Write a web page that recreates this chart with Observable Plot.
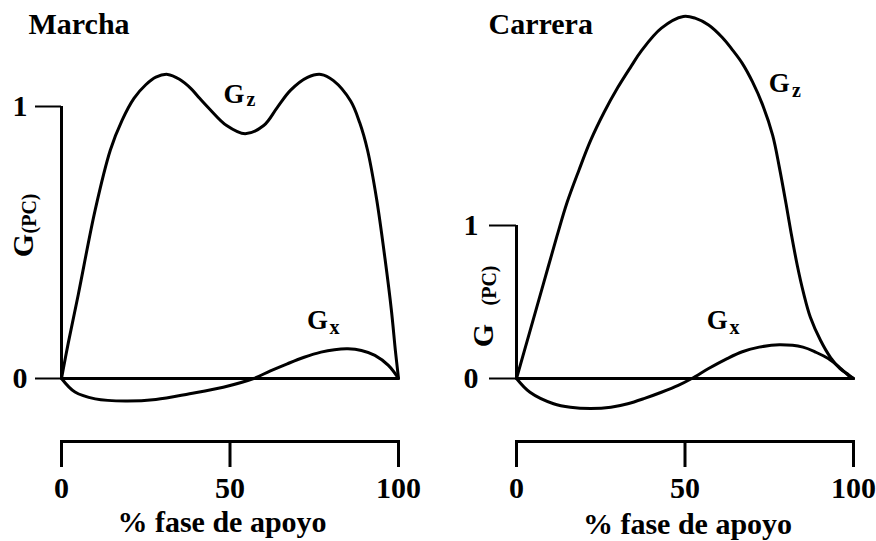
<!DOCTYPE html>
<html><head><meta charset="utf-8">
<script src="https://cdn.jsdelivr.net/npm/d3@7"></script>
<script src="https://cdn.jsdelivr.net/npm/@observablehq/plot@0.6"></script>
<style>
body{margin:0;background:#fff;}
#chart{position:relative;width:876px;height:541px;overflow:hidden;background:#fff;}
#chart svg{position:absolute;top:0;}
</style></head><body><div id="chart"></div>
<script>
// ---- data ----
const xTicks = [0, 50, 100];
const yTicks = [0, 1];
const panelTitles = ["Marcha", "Carrera"];
const xLabel = "% fase de apoyo";
const yLabelMain = "G";
const yLabelSub = "(PC)";

// Marcha (walking)
const marchaGzX = [0, 2, 5, 10, 14.5, 18, 21.5, 25, 28, 31.5, 35, 38.5, 41, 44, 49, 54.5, 60, 64, 68, 73, 77, 80.7, 85.8, 88.5, 90.8, 93.5, 96, 97.9, 99.1, 100];
const marchaGzV = [0, 0.13, 0.31, 0.62, 0.84, 0.95, 1.03, 1.08, 1.108, 1.118, 1.10, 1.065, 1.03, 0.99, 0.93, 0.90, 0.93, 0.996, 1.06, 1.107, 1.118, 1.095, 1.02, 0.94, 0.84, 0.66, 0.44, 0.25, 0.10, 0];
const marchaGxX = [0, 4, 10, 19, 28, 38, 48, 57, 62, 67, 72, 77, 81, 85, 89, 93, 97, 100];
const marchaGxV = [0, -0.05, -0.075, -0.083, -0.077, -0.056, -0.032, 0, 0.028, 0.054, 0.078, 0.097, 0.106, 0.109, 0.103, 0.085, 0.048, 0];

// Carrera (running)
const carreraGzX = [0, 4, 8, 12, 15, 18.5, 22, 26, 30, 34, 37, 43, 49.5, 53, 57, 61, 64, 67, 70, 73, 76, 78, 80, 81.5, 83.4, 85.2, 87.2, 90.2, 93.2, 96, 98.5, 100];
const carreraGzV = [0, 0.31, 0.62, 0.93, 1.15, 1.36, 1.556, 1.74, 1.9, 2.04, 2.14, 2.29, 2.366, 2.355, 2.31, 2.23, 2.15, 2.06, 1.94, 1.79, 1.59, 1.38, 1.14, 0.95, 0.73, 0.556, 0.40, 0.25, 0.137, 0.065, 0.025, 0];
const carreraGxX = [0, 4, 11, 16, 22, 28, 33, 38, 43, 48, 52, 57, 62.5, 67, 72, 78, 85, 89, 92.5, 96, 98.5, 100];
const carreraGxV = [0, -0.09, -0.165, -0.188, -0.196, -0.188, -0.165, -0.13, -0.09, -0.045, 0, 0.065, 0.13, 0.175, 0.205, 0.22, 0.205, 0.17, 0.13, 0.07, 0.02, 0];

// curve labels: main letter + subscript (anchor in data coordinates)
const labelMain = ["G", "G"];
const labelSub = ["z", "x"];
const marchaLabelX = [51.2, 76.0], marchaLabelV = [1.044, 0.213];
const marchaSubX = [56.2, 81.0], marchaSubV = [1.026, 0.1875];
const carreraLabelX = [78.0, 59.6], carreraLabelV = [1.928, 0.379];
const carreraSubX = [83.1, 64.7], carreraSubV = [1.882, 0.333];

// ---- build ----
const FONT = "'Liberation Serif','Times New Roman',serif";
const toRows = (xs, vs) => xs.map((x, i) => ({x, v: vs[i]}));
const toLabels = (xs, vs, ts) => xs.map((x, i) => ({x, v: vs[i], t: ts[i]}));

function panel(o) {
  return Plot.plot({
    width: o.width, height: 541,
    marginLeft: o.marginLeft, marginRight: o.marginRight, marginTop: 0, marginBottom: 100,
    x: {domain: [0, 100]},
    y: {domain: [0, 1], range: o.yRange},
    style: `font-family:${FONT};font-weight:bold;background:white;overflow:visible;color:black;`,
    marks: [
      Plot.frame({anchor: "bottom", strokeWidth: 3}),
      Plot.axisX({ticks: xTicks, tickFormat: d => String(d), tickSize: 26, tickPadding: 9, fontSize: 30, strokeWidth: 3, label: null}),
      Plot.axisY({ticks: yTicks, tickFormat: d => String(d), tickSize: o.yTick, tickPadding: o.yPad, fontSize: 30, strokeWidth: 2, label: null}),
      Plot.ruleX([0], {y1: 0, y2: 1, strokeWidth: 3}),
      Plot.ruleY([0], {x1: 0, x2: 100, strokeWidth: 3}),
      Plot.line(o.gz, {x: "x", y: "v", curve: "catmull-rom", strokeWidth: 3, strokeLinejoin: "round"}),
      Plot.line(o.gx, {x: "x", y: "v", curve: "catmull-rom", strokeWidth: 3, strokeLinejoin: "round"}),
      Plot.text(o.main, {x: "x", y: "v", text: "t", fontSize: 27, textAnchor: "middle", lineAnchor: "middle"}),
      Plot.text(o.sub, {x: "x", y: "v", text: "t", fontSize: 20, textAnchor: "middle", lineAnchor: "middle"}),
      Plot.text([o.title], {frameAnchor: "top-left", textAnchor: "start", lineAnchor: "bottom", dx: o.titleDx, dy: 33, fontSize: 30}),
      Plot.text([yLabelMain], {frameAnchor: "left", rotate: -90, textAnchor: "middle", lineAnchor: "bottom", dx: o.gDx, dy: o.gDy, fontSize: 30}),
      Plot.text([yLabelSub], {frameAnchor: "left", rotate: -90, textAnchor: "middle", lineAnchor: "bottom", dx: o.pcDx, dy: o.pcDy, fontSize: 20}),
      Plot.text([xLabel], {frameAnchor: "bottom", textAnchor: "middle", lineAnchor: "bottom", dx: o.xlDx, dy: o.xlDy, fontSize: 30})
    ]
  });
}

const left = panel({
  width: 440, marginLeft: 61, marginRight: 42, yRange: [378, 106], yTick: 26, yPad: 8,
  gz: toRows(marchaGzX, marchaGzV), gx: toRows(marchaGxX, marchaGxV),
  main: toLabels(marchaLabelX, marchaLabelV, labelMain), sub: toLabels(marchaSubX, marchaSubV, labelSub),
  title: panelTitles[0], titleDx: -33, gDx: -29, gDy: 24.5, pcDx: -26, pcDy: -7.5, xlDx: -8, xlDy: 90
});
const right = panel({
  width: 436, marginLeft: 76, marginRight: 23, yRange: [378, 225], yTick: 27, yPad: 11,
  gz: toRows(carreraGzX, carreraGzV), gx: toRows(carreraGxX, carreraGxV),
  main: toLabels(carreraLabelX, carreraLabelV, labelMain), sub: toLabels(carreraSubX, carreraSubV, labelSub),
  title: panelTitles[1], titleDx: -28, gDx: -24, gDy: 114.5, pcDx: -21, pcDy: 64.5, xlDx: 2.5, xlDy: 92
});
left.style.left = "0px";
right.style.left = "440px";
const chart = document.getElementById("chart");
chart.appendChild(left);
chart.appendChild(right);
</script>
</body></html>
